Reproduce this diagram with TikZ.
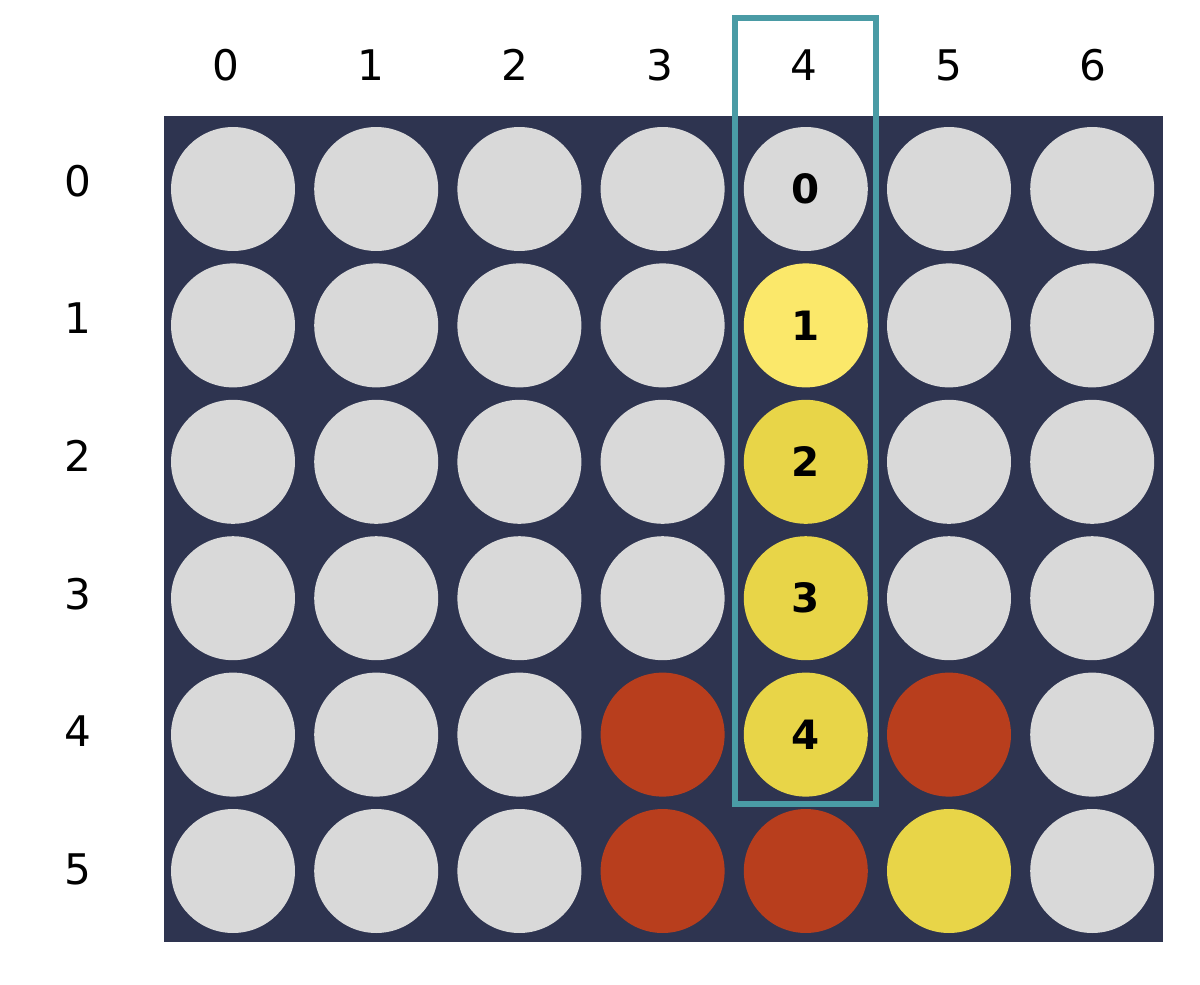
\documentclass[tikz,border=0pt]{standalone}
\usepackage{fontspec}
\setmainfont{DejaVu Sans}
\usepackage{xcolor}
\usetikzlibrary{positioning}
\definecolor{boardFill}{HTML}{2E3450}
\definecolor{emptyFill}{HTML}{D9D9D9}
\definecolor{yellowFill}{HTML}{E8D548}
\definecolor{hintFill}{HTML}{FBE86A}
\definecolor{redFill}{HTML}{B83E1D}
\definecolor{selDraw}{HTML}{4A9BA5}

\begin{document}
\begin{tikzpicture}[
  x=0.02cm, y=-0.02cm,
  disc/.style={circle, inner sep=0pt, minimum size=2.48cm},
  emptydisc/.style={disc, fill=emptyFill},
  yellowdisc/.style={disc, fill=yellowFill},
  hintdisc/.style={disc, fill=hintFill},
  reddisc/.style={disc, fill=redFill},
  axislbl/.style={font=\fontsize{24}{28}\selectfont, text=black},
  slotlbl/.style={font=\fontsize{23}{28}\selectfont\bfseries, text=black},
]
\useasboundingbox (0,0) rectangle (1200,984);

% ---- board ----
\node[fill=boardFill, inner sep=0pt, minimum width=19.98cm, minimum height=16.52cm,
      anchor=north west] (board) at (164,116) {};

% ---- discs, row by row ----
\foreach \row/\cells in {0/{empty,empty,empty,empty,empty,empty,empty},
                         1/{empty,empty,empty,empty,hint,empty,empty},
                         2/{empty,empty,empty,empty,yellow,empty,empty},
                         3/{empty,empty,empty,empty,yellow,empty,empty},
                         4/{empty,empty,empty,red,yellow,red,empty},
                         5/{empty,empty,empty,red,red,yellow,empty}}{
  \foreach \kind [count=\col from 0] in \cells{
    \node[\kind disc] (cell-\row-\col) at ({233+143.2*\col},{189+136.4*\row}) {};
  }
}

% ---- indices in the chosen column ----
\foreach \row in {0,...,4}
  \node[slotlbl] at (cell-\row-4) {\row};

% ---- column and row labels ----
\foreach \col in {0,...,6}
  \node[axislbl] (colLbl-\col) at ({226+144.5*\col},65) {\col};
\foreach \row in {0,...,5}
  \node[axislbl] (rowLbl-\row) at (78,{181+137.6*\row}) {\row};

% ---- selected column ----
\draw[selDraw, line width=3.2pt] (735,18) rectangle (876,804);

\end{tikzpicture}
\end{document}
